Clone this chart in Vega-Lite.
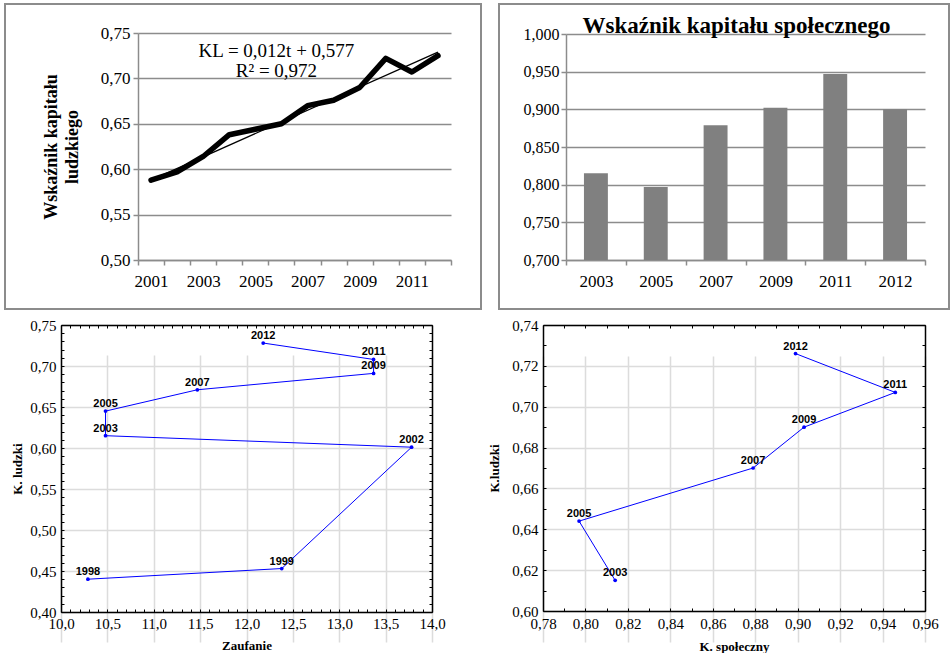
{
  "$schema": "https://vega.github.io/schema/vega-lite/v6.json",
  "padding": {"left": 4, "top": 3, "right": 0, "bottom": 0},
  "background": "white",
  "datasets": {
    "tl": [
      {"year": "2001", "kl": 0.588}, {"year": "2002", "kl": 0.597}, {"year": "2003", "kl": 0.614},
      {"year": "2004", "kl": 0.638}, {"year": "2005", "kl": 0.644}, {"year": "2006", "kl": 0.650},
      {"year": "2007", "kl": 0.670}, {"year": "2008", "kl": 0.676}, {"year": "2009", "kl": 0.690},
      {"year": "2010", "kl": 0.722}, {"year": "2011", "kl": 0.707}, {"year": "2012", "kl": 0.725}
    ],
    "trend": [
      {"year": "2001", "kl": 0.588}, {"year": "2012", "kl": 0.729}
    ],
    "tr": [
      {"year": "2003", "ks": 0.815}, {"year": "2005", "ks": 0.797}, {"year": "2007", "ks": 0.879},
      {"year": "2009", "ks": 0.902}, {"year": "2011", "ks": 0.947}, {"year": "2012", "ks": 0.900}
    ],
    "bl": [
      {"year": "1998", "zauf": 10.29, "kl": 0.440}, {"year": "1999", "zauf": 12.38, "kl": 0.453},
      {"year": "2002", "zauf": 13.78, "kl": 0.601}, {"year": "2003", "zauf": 10.48, "kl": 0.615},
      {"year": "2005", "zauf": 10.48, "kl": 0.645}, {"year": "2007", "zauf": 11.47, "kl": 0.671},
      {"year": "2009", "zauf": 13.37, "kl": 0.691}, {"year": "2011", "zauf": 13.37, "kl": 0.708},
      {"year": "2012", "zauf": 12.18, "kl": 0.728}
    ],
    "br": [
      {"year": "2003", "ks": 0.814, "kl": 0.615}, {"year": "2005", "ks": 0.797, "kl": 0.644},
      {"year": "2007", "ks": 0.879, "kl": 0.670}, {"year": "2009", "ks": 0.903, "kl": 0.690},
      {"year": "2011", "ks": 0.946, "kl": 0.707}, {"year": "2012", "ks": 0.899, "kl": 0.726}
    ]
  },
  "columns": 2,
  "spacing": {"row": 8, "column": 18},
  "bounds": "flush",
  "concat": [
    {
      "width": 476,
      "height": 305,
      "view": {"stroke": "#8c8c8c", "strokeWidth": 2},
      "resolve": {"axis": {"x": "independent", "y": "independent"}},
      "layer": [
        {
          "data": {"name": "tl"},
          "mark": {"type": "line", "color": "#000000", "strokeWidth": 5.5, "strokeCap": "round", "strokeJoin": "round"},
          "encoding": {
            "x": {
              "field": "year", "type": "ordinal", "bandPosition": 0.5,
              "scale": {"type": "band", "range": [133, 446], "paddingInner": 0, "paddingOuter": 0},
              "axis": {"orient": "bottom", "offset": -49, "tickBand": "extent", "labelAngle": 0,
                "labelExpr": "toNumber(datum.value) % 2 == 1 ? datum.label : ''",
                "domainColor": "#8c8c8c", "domainWidth": 1.5, "tickColor": "#8c8c8c", "tickWidth": 1.5, "tickSize": 5,
                "labelFont": "Liberation Serif", "labelFontSize": 17, "labelPadding": 8, "title": null, "grid": false}
            },
            "y": {
              "field": "kl", "type": "quantitative",
              "scale": {"domain": [0.5, 0.75], "range": [256, 29], "nice": false, "zero": false},
              "axis": {"orient": "left", "offset": -133, "values": [0.5, 0.55, 0.6, 0.65, 0.7, 0.75],
                "labelExpr": "replace(format(datum.value, '.2f'), '.', ',')",
                "grid": true, "gridColor": "#8c8c8c", "gridWidth": 1.5,
                "domainColor": "#8c8c8c", "domainWidth": 1.5, "tickColor": "#8c8c8c", "tickWidth": 1.5, "tickSize": 5,
                "labelFont": "Liberation Serif", "labelFontSize": 17, "labelPadding": 3, "minExtent": 0,
                "title": ["Wskaźnik kapitału", "ludzkiego"], "titleFont": "Liberation Serif", "titleFontSize": 18, "titleFontWeight": "bold",
                "titlePadding": 19, "titleLineHeight": 21}
            }
          }
        },
        {
          "data": {"name": "trend"},
          "mark": {"type": "line", "color": "#000000", "strokeWidth": 1.3},
          "encoding": {
            "x": {"field": "year", "type": "ordinal", "bandPosition": 0.5, "axis": null},
            "y": {"field": "kl", "type": "quantitative", "axis": null}
          }
        },
        {
          "data": {"values": [{}]},
          "mark": {"type": "text", "font": "Liberation Serif", "fontSize": 19, "baseline": "alphabetic", "align": "center", "dx": -5, "dy": 4, "color": "#000000"},
          "encoding": {
            "x": {"datum": "2006", "bandPosition": 0.5, "axis": null},
            "y": {"datum": 0.728, "axis": null},
            "text": {"value": "KL = 0,012t + 0,577"}
          }
        },
        {
          "data": {"values": [{}]},
          "mark": {"type": "text", "font": "Liberation Serif", "fontSize": 19, "baseline": "alphabetic", "align": "center", "dx": -5, "dy": 2, "color": "#000000"},
          "encoding": {
            "x": {"datum": "2006", "bandPosition": 0.5, "axis": null},
            "y": {"datum": 0.704, "axis": null},
            "text": {"value": "R² = 0,972"}
          }
        }
      ]
    },
    {
      "width": 450,
      "height": 305,
      "view": {"stroke": "#8c8c8c", "strokeWidth": 2},
      "resolve": {"axis": {"x": "independent", "y": "independent"}},
      "layer": [
        {
          "data": {"name": "tr"},
          "mark": {"type": "bar", "color": "#808080", "width": {"band": 0.4}},
          "encoding": {
            "x": {
              "field": "year", "type": "ordinal",
              "scale": {"type": "band", "range": [67, 426], "paddingInner": 0, "paddingOuter": 0},
              "axis": {"orient": "bottom", "offset": -49, "tickBand": "extent", "labelAngle": 0,
                "domainColor": "#8c8c8c", "domainWidth": 1.5, "tickColor": "#8c8c8c", "tickWidth": 1.5, "tickSize": 5,
                "labelFont": "Liberation Serif", "labelFontSize": 17, "labelPadding": 8, "title": null, "grid": false}
            },
            "y": {
              "field": "ks", "type": "quantitative",
              "scale": {"domain": [0.7, 1.0], "range": [256, 30], "nice": false, "zero": false},
              "axis": {"orient": "left", "offset": -67, "values": [0.7, 0.75, 0.8, 0.85, 0.9, 0.95, 1.0],
                "labelExpr": "replace(format(datum.value, '.3f'), '.', ',')",
                "grid": true, "gridColor": "#8c8c8c", "gridWidth": 1.5,
                "domainColor": "#8c8c8c", "domainWidth": 1.5, "tickColor": "#8c8c8c", "tickWidth": 1.5, "tickSize": 5,
                "labelFont": "Liberation Serif", "labelFontSize": 16, "labelPadding": 2, "minExtent": 0, "title": null}
            },
            "y2": {"datum": 0.7}
          }
        },
        {
          "data": {"values": [{}]},
          "mark": {"type": "text", "font": "Liberation Serif", "fontSize": 23, "fontWeight": "bold", "baseline": "alphabetic", "align": "center", "dx": 21, "dy": -1, "color": "#000000"},
          "encoding": {
            "x": {"datum": "2007", "bandPosition": 0.5, "axis": null},
            "y": {"datum": 1.0, "axis": null},
            "text": {"value": "Wskaźnik kapitału społecznego"}
          }
        }
      ]
    },
    {
      "width": 476,
      "height": 333,
      "resolve": {"axis": {"x": "independent", "y": "independent"}},
      "data": {"name": "bl"},
      "layer": [
        {
          "mark": {"type": "line", "color": "#0000ff", "strokeWidth": 1},
          "encoding": {
            "x": {
              "field": "zauf", "type": "quantitative",
              "scale": {"domain": [10, 14], "range": [56, 427], "nice": false, "zero": false},
              "axis": {"orient": "bottom", "offset": -38, "values": [10, 10.5, 11, 11.5, 12, 12.5, 13, 13.5, 14],
                "labelExpr": "replace(format(datum.value, '.1f'), '.', ',')",
                "grid": true, "gridColor": "#dcdcdc", "gridWidth": 1.5,
                "domainColor": "#000000", "domainWidth": 1.5, "ticks": false,
                "labelFont": "Liberation Serif", "labelFontSize": 15, "labelPadding": 4, "labelFlush": false,
                "title": "Zaufanie", "titleFont": "Liberation Serif", "titleFontSize": 13, "titleFontWeight": "bold", "titlePadding": 8}
            },
            "y": {
              "field": "kl", "type": "quantitative",
              "scale": {"domain": [0.4, 0.75], "range": [295, 8], "nice": false, "zero": false},
              "axis": {"orient": "left", "offset": -56, "values": [0.4, 0.45, 0.5, 0.55, 0.6, 0.65, 0.7, 0.75],
                "labelExpr": "replace(format(datum.value, '.2f'), '.', ',')",
                "grid": true, "gridColor": "#dcdcdc", "gridWidth": 1.5,
                "domainColor": "#000000", "domainWidth": 1.5, "ticks": false,
                "labelFont": "Liberation Serif", "labelFontSize": 15, "labelPadding": 5, "minExtent": 0, "labelFlush": false,
                "title": "K. ludzki", "titleFont": "Liberation Serif", "titleFontSize": 13, "titleFontWeight": "bold", "titlePadding": 5}
            },
            "order": {"field": "year", "type": "ordinal"}
          }
        },
        {
          "mark": {"type": "point", "filled": true, "color": "#0000ff", "size": 14, "opacity": 1},
          "encoding": {
            "x": {"field": "zauf", "type": "quantitative",
              "axis": {"orient": "top", "offset": -8, "labels": false, "ticks": false, "grid": false, "domainColor": "#000000", "domainWidth": 1.5, "title": null}},
            "y": {"field": "kl", "type": "quantitative",
              "axis": {"orient": "right", "offset": -49, "labels": false, "ticks": false, "grid": false, "domainColor": "#000000", "domainWidth": 1.5, "title": null, "minExtent": 0}}
          }
        },
        {
          "mark": {"type": "text", "font": "Liberation Sans", "fontSize": 11, "fontWeight": "bold", "baseline": "bottom", "dy": -2, "color": "#000000"},
          "encoding": {
            "x": {"field": "zauf", "type": "quantitative",
              "axis": {"orient": "top", "offset": -295, "labels": false, "domain": false, "grid": false, "ticks": true, "tickSize": 3, "tickColor": "#000000", "title": null,
                "values": [10, 10.1, 10.2, 10.3, 10.4, 10.5, 10.6, 10.7, 10.8, 10.9, 11, 11.1, 11.2, 11.3, 11.4, 11.5, 11.6, 11.7, 11.8, 11.9, 12, 12.1, 12.2, 12.3, 12.4, 12.5, 12.6, 12.7, 12.8, 12.9, 13, 13.1, 13.2, 13.3, 13.4, 13.5, 13.6, 13.7, 13.8, 13.9, 14]}},
            "y": {"field": "kl", "type": "quantitative",
              "axis": {"orient": "right", "offset": -420, "labels": false, "domain": false, "grid": false, "ticks": true, "tickSize": 3, "tickColor": "#000000", "title": null, "minExtent": 0,
                "values": [0.4, 0.41, 0.42, 0.43, 0.44, 0.45, 0.46, 0.47, 0.48, 0.49, 0.5, 0.51, 0.52, 0.53, 0.54, 0.55, 0.56, 0.57, 0.58, 0.59, 0.6, 0.61, 0.62, 0.63, 0.64, 0.65, 0.66, 0.67, 0.68, 0.69, 0.7, 0.71, 0.72, 0.73, 0.74, 0.75]}},
            "text": {"field": "year", "type": "nominal"}
          }
        },
        {
          "mark": {"type": "point", "opacity": 0},
          "encoding": {
            "x": {"field": "zauf", "type": "quantitative",
              "axis": {"orient": "bottom", "offset": -325, "labels": false, "domain": false, "grid": false, "ticks": true, "tickSize": 3, "tickColor": "#000000", "title": null,
                "values": [10, 10.1, 10.2, 10.3, 10.4, 10.5, 10.6, 10.7, 10.8, 10.9, 11, 11.1, 11.2, 11.3, 11.4, 11.5, 11.6, 11.7, 11.8, 11.9, 12, 12.1, 12.2, 12.3, 12.4, 12.5, 12.6, 12.7, 12.8, 12.9, 13, 13.1, 13.2, 13.3, 13.4, 13.5, 13.6, 13.7, 13.8, 13.9, 14]}},
            "y": {"field": "kl", "type": "quantitative",
              "axis": {"orient": "left", "offset": -427, "labels": false, "domain": false, "grid": false, "ticks": true, "tickSize": 3, "tickColor": "#000000", "title": null, "minExtent": 0,
                "values": [0.4, 0.41, 0.42, 0.43, 0.44, 0.45, 0.46, 0.47, 0.48, 0.49, 0.5, 0.51, 0.52, 0.53, 0.54, 0.55, 0.56, 0.57, 0.58, 0.59, 0.6, 0.61, 0.62, 0.63, 0.64, 0.65, 0.66, 0.67, 0.68, 0.69, 0.7, 0.71, 0.72, 0.73, 0.74, 0.75]}}
          }
        }
      ]
    },
    {
      "width": 450,
      "height": 333,
      "resolve": {"axis": {"x": "independent", "y": "independent"}},
      "data": {"name": "br"},
      "layer": [
        {
          "mark": {"type": "line", "color": "#0000ff", "strokeWidth": 1},
          "encoding": {
            "x": {
              "field": "ks", "type": "quantitative",
              "scale": {"domain": [0.78, 0.96], "range": [44, 426], "nice": false, "zero": false},
              "axis": {"orient": "bottom", "offset": -39, "values": [0.78, 0.8, 0.82, 0.84, 0.86, 0.88, 0.9, 0.92, 0.94, 0.96],
                "labelExpr": "replace(format(datum.value, '.2f'), '.', ',')",
                "grid": true, "gridColor": "#dcdcdc", "gridWidth": 1.5,
                "domainColor": "#000000", "domainWidth": 1.5, "ticks": false,
                "labelFont": "Liberation Serif", "labelFontSize": 15, "labelPadding": 5, "labelFlush": false,
                "title": "K. społeczny", "titleFont": "Liberation Serif", "titleFontSize": 13, "titleFontWeight": "bold", "titlePadding": 9}
            },
            "y": {
              "field": "kl", "type": "quantitative",
              "scale": {"domain": [0.6, 0.74], "range": [294, 8], "nice": false, "zero": false},
              "axis": {"orient": "left", "offset": -44, "values": [0.6, 0.62, 0.64, 0.66, 0.68, 0.7, 0.72, 0.74],
                "labelExpr": "replace(format(datum.value, '.2f'), '.', ',')",
                "grid": true, "gridColor": "#dcdcdc", "gridWidth": 1.5,
                "domainColor": "#000000", "domainWidth": 1.5, "ticks": false,
                "labelFont": "Liberation Serif", "labelFontSize": 15, "labelPadding": 5, "minExtent": 0, "labelFlush": false,
                "title": "K.ludzki", "titleFont": "Liberation Serif", "titleFontSize": 13, "titleFontWeight": "bold", "titlePadding": 10}
            },
            "order": {"field": "year", "type": "ordinal"}
          }
        },
        {
          "mark": {"type": "point", "filled": true, "color": "#0000ff", "size": 14, "opacity": 1},
          "encoding": {
            "x": {"field": "ks", "type": "quantitative",
              "axis": {"orient": "top", "offset": -8, "labels": false, "ticks": false, "grid": false, "domainColor": "#000000", "domainWidth": 1.5, "title": null}},
            "y": {"field": "kl", "type": "quantitative",
              "axis": {"orient": "right", "offset": -24, "labels": false, "ticks": false, "grid": false, "domainColor": "#000000", "domainWidth": 1.5, "title": null, "minExtent": 0}}
          }
        },
        {
          "mark": {"type": "text", "font": "Liberation Sans", "fontSize": 11, "fontWeight": "bold", "baseline": "bottom", "dy": -2, "color": "#000000"},
          "encoding": {
            "x": {"field": "ks", "type": "quantitative",
              "axis": {"orient": "top", "offset": -294, "labels": false, "domain": false, "grid": false, "ticks": true, "tickSize": 3, "tickColor": "#000000", "title": null,
                "values": [0.78, 0.79, 0.8, 0.81, 0.82, 0.83, 0.84, 0.85, 0.86, 0.87, 0.88, 0.89, 0.9, 0.91, 0.92, 0.93, 0.94, 0.95, 0.96]}},
            "y": {"field": "kl", "type": "quantitative",
              "axis": {"orient": "right", "offset": -406, "labels": false, "domain": false, "grid": false, "ticks": true, "tickSize": 3, "tickColor": "#000000", "title": null, "minExtent": 0,
                "values": [0.6, 0.61, 0.62, 0.63, 0.64, 0.65, 0.66, 0.67, 0.68, 0.69, 0.7, 0.71, 0.72, 0.73, 0.74]}},
            "text": {"field": "year", "type": "nominal"}
          }
        },
        {
          "mark": {"type": "point", "opacity": 0},
          "encoding": {
            "x": {"field": "ks", "type": "quantitative",
              "axis": {"orient": "bottom", "offset": -325, "labels": false, "domain": false, "grid": false, "ticks": true, "tickSize": 3, "tickColor": "#000000", "title": null,
                "values": [0.78, 0.79, 0.8, 0.81, 0.82, 0.83, 0.84, 0.85, 0.86, 0.87, 0.88, 0.89, 0.9, 0.91, 0.92, 0.93, 0.94, 0.95, 0.96]}},
            "y": {"field": "kl", "type": "quantitative",
              "axis": {"orient": "left", "offset": -426, "labels": false, "domain": false, "grid": false, "ticks": true, "tickSize": 3, "tickColor": "#000000", "title": null, "minExtent": 0,
                "values": [0.6, 0.61, 0.62, 0.63, 0.64, 0.65, 0.66, 0.67, 0.68, 0.69, 0.7, 0.71, 0.72, 0.73, 0.74]}}
          }
        }
      ]
    }
  ],
  "config": {
    "view": {"stroke": null},
    "font": "Liberation Serif",
    "axis": {
      "grid": false,
      "labelFont": "Liberation Serif",
      "titleFont": "Liberation Serif",
      "labelColor": "#000000",
      "titleColor": "#000000"
    }
  }
}
